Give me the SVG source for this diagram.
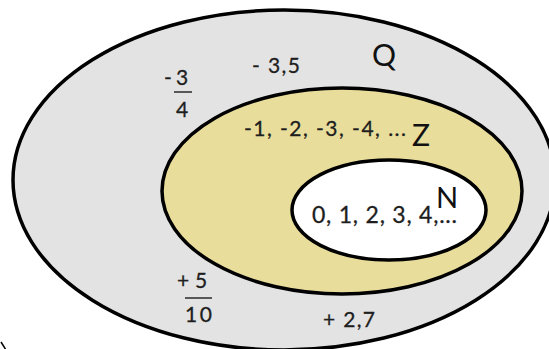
<svg xmlns="http://www.w3.org/2000/svg" width="549" height="349" viewBox="0 0 549 349">
<style>
.set{stroke:#000;stroke-width:3.5}
.t{font-family:Lato,"Liberation Sans",sans-serif;fill:#1e1e1e;stroke:#1e1e1e;stroke-width:0.3}
.lbl{font-family:Lato,"Liberation Sans",sans-serif;fill:#111}
.bar{stroke:#2a2a2a;stroke-width:1.5}
</style>
<rect width="549" height="349" fill="#fff"/>
<g id="Q">
<ellipse class="set" cx="284" cy="180" rx="271" ry="170" fill="#e3e3e3"/>
<text class="lbl" x="372" y="66" font-size="30">Q</text>
<text class="t" x="252" y="73" font-size="21" textLength="48">- 3,5</text>
<text class="t" x="164" y="85" font-size="21">-</text>
<text class="t" x="176" y="85" font-size="21">3</text>
<line class="bar" x1="174" y1="92" x2="192" y2="92"/>
<text class="t" x="176" y="117" font-size="21">4</text>
<text class="t" x="177" y="288" font-size="21">+</text>
<text class="t" x="195" y="288" font-size="21">5</text>
<line class="bar" x1="185" y1="298" x2="212" y2="298"/>
<text class="t" x="185" y="322" font-size="21" textLength="27">10</text>
<text class="t" x="323" y="327" font-size="21" textLength="52">+ 2,7</text>
</g>
<g id="Z">
<ellipse class="set" cx="342" cy="191" rx="180" ry="103" fill="#e9dd9c"/>
<text class="t" x="244" y="136" font-size="21" textLength="162">-1, -2, -3, -4, ...</text>
<text class="lbl" x="412" y="146" font-size="30">Z</text>
</g>
<g id="N">
<ellipse class="set" cx="389" cy="210" rx="97" ry="50" fill="#fff"/>
<text class="t" x="312" y="223" font-size="23" textLength="145">0, 1, 2, 3, 4,...</text>
<text class="lbl" x="436" y="208" font-size="29">N</text>
</g>
<g id="connectors">
<line x1="1" y1="342" x2="6" y2="350" stroke="#000" stroke-width="1.5"/>
</g>
</svg>
